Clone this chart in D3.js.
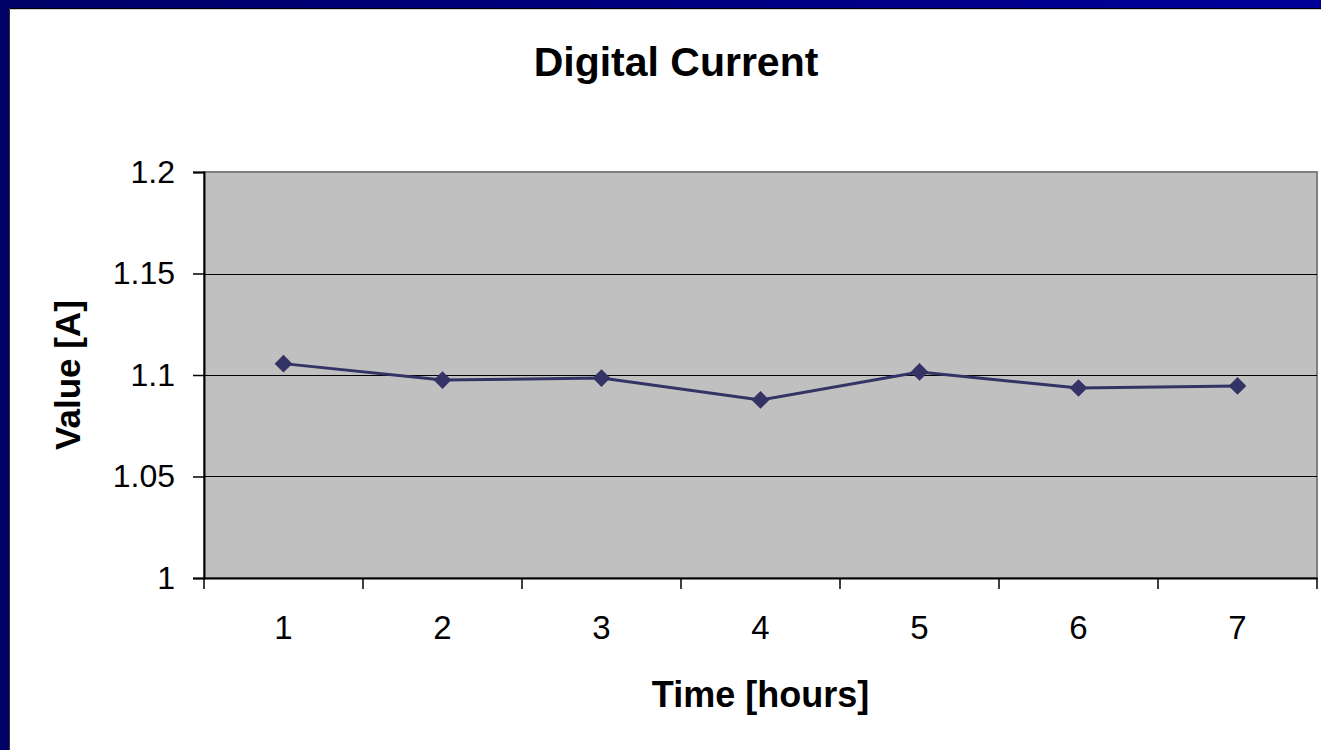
<!DOCTYPE html>
<html>
<head>
<meta charset="utf-8">
<script src="https://cdn.jsdelivr.net/npm/d3@7/dist/d3.min.js"></script>
<style>
html,body{margin:0;padding:0;background:#fff;overflow:hidden;}
svg{display:block;font-family:"Liberation Sans",Arial,sans-serif;}
</style>
</head>
<body>
<svg id="chart" width="1321" height="750"></svg>
<script>
const categories = ["1","2","3","4","5","6","7"];
const values = [1.1056, 1.0975, 1.0985, 1.0877, 1.1015, 1.0936, 1.0946];
const yTicks = [1, 1.05, 1.1, 1.15, 1.2];
const yTickLabels = ["1", "1.05", "1.1", "1.15", "1.2"];
const title = "Digital Current";
const xTitle = "Time [hours]";
const yTitle = "Value [A]";

const svg = d3.select("#chart");
const W = 1321, H = 750;
const plot = {left: 204, right: 1317, top: 172, bottom: 578};
const FONT = "Liberation Sans, Arial, sans-serif";

// frame
const defs = svg.append("defs");
const grad = defs.append("linearGradient").attr("id","topg").attr("x1","0").attr("x2","1").attr("y1","0").attr("y2","0");
grad.append("stop").attr("offset","0").attr("stop-color","#000066");
grad.append("stop").attr("offset","1").attr("stop-color","#000099");
svg.append("rect").attr("x",0).attr("y",0).attr("width",W).attr("height",H).attr("fill","#fff");
svg.append("rect").attr("x",0).attr("y",0).attr("width",W).attr("height",8).attr("fill","url(#topg)");
svg.append("rect").attr("x",0).attr("y",0).attr("width",9).attr("height",H).attr("fill","#000066");
svg.append("line").attr("x1",9).attr("x2",W).attr("y1",8.5).attr("y2",8.5).attr("stroke","#000").attr("stroke-width",1);
svg.append("line").attr("x1",10).attr("x2",W).attr("y1",9.5).attr("y2",9.5).attr("stroke","#ccc").attr("stroke-width",1);
svg.append("line").attr("x1",9.5).attr("x2",9.5).attr("y1",8).attr("y2",H).attr("stroke","#333").attr("stroke-width",1);

const x = d3.scaleBand().domain(categories).range([plot.left, plot.right]).padding(0);
const y = d3.scaleLinear().domain([1, 1.2]).range([plot.bottom, plot.top]);

// plot area
svg.append("rect").attr("x",plot.left).attr("y",plot.top).attr("width",plot.right-plot.left).attr("height",plot.bottom-plot.top)
  .attr("fill","#c0c0c0").attr("stroke","#808080").attr("stroke-width",2);

// gridlines
svg.append("g").selectAll("line").data(yTicks.slice(1,-1)).join("line")
  .attr("x1",plot.left).attr("x2",plot.right)
  .attr("y1",d=>Math.round(y(d))+0.5).attr("y2",d=>Math.round(y(d))+0.5)
  .attr("stroke","#000").attr("stroke-width",1);

// y axis
const yAxis = d3.axisLeft(y).tickValues(yTicks).tickSize(11).tickPadding(18)
  .tickFormat((d,i)=>yTickLabels[i]);
const gy = svg.append("g").attr("transform",`translate(${plot.left},0)`).call(yAxis);
gy.select(".domain").attr("stroke","#000").attr("stroke-width",2);
gy.selectAll(".tick line").attr("stroke","#000").attr("stroke-width",1.5);
gy.selectAll(".tick text").attr("font-size",32).attr("fill","#000").attr("font-family",FONT);

// x axis
const xAxis = d3.axisBottom(x).tickSize(0).tickPadding(38);
const gx = svg.append("g").attr("transform",`translate(0,${plot.bottom})`).call(xAxis);
gx.select(".domain").attr("stroke","#000").attr("stroke-width",2);
gx.selectAll(".tick text").attr("font-size",33).attr("fill","#000").attr("font-family",FONT);
// band boundary ticks
const bounds = categories.map(c=>x(c)).concat([x(categories[categories.length-1])+x.bandwidth()]);
svg.append("g").selectAll("line").data(bounds).join("line")
  .attr("x1",d=>d).attr("x2",d=>d).attr("y1",plot.bottom).attr("y2",plot.bottom+11)
  .attr("stroke","#000").attr("stroke-width",1.5);

// line + markers
const cx = d=>x(d)+x.bandwidth()/2;
const data = categories.map((c,i)=>({c, v: values[i]}));
svg.append("path").datum(data)
  .attr("d", d3.line().x(d=>cx(d.c)).y(d=>y(d.v)))
  .attr("fill","none").attr("stroke","#333366").attr("stroke-width",3);
svg.append("g").selectAll("path").data(data).join("path")
  .attr("d", d3.symbol().type(d3.symbolDiamond2).size(200)())
  .attr("transform", d=>`translate(${cx(d.c)},${y(d.v)})`)
  .attr("fill","#333366");

// titles
svg.append("text").attr("x",676).attr("y",76).attr("text-anchor","middle")
  .attr("font-size",41).attr("font-weight","bold").attr("font-family",FONT).text(title);
svg.append("text").attr("x",(plot.left+plot.right)/2).attr("y",707).attr("text-anchor","middle")
  .attr("font-size",36).attr("font-weight","bold").attr("font-family",FONT).text(xTitle);
svg.append("text").attr("transform",`translate(80,${(plot.top+plot.bottom)/2}) rotate(-90)`).attr("text-anchor","middle")
  .attr("font-size",35).attr("font-weight","bold").attr("font-family",FONT).text(yTitle);
</script>
</body>
</html>
